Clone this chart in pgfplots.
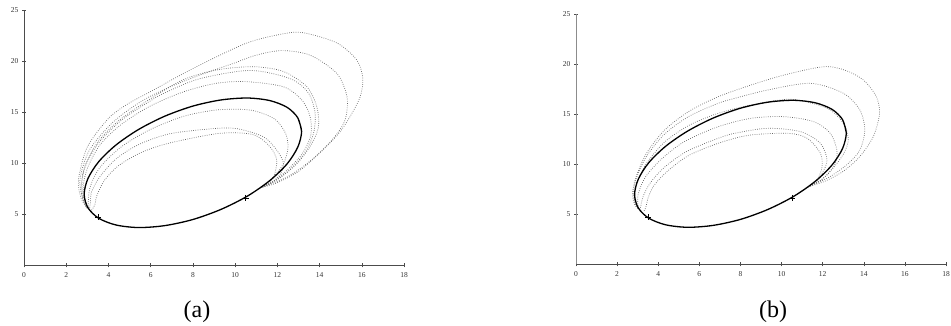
\documentclass[border=0pt]{standalone}
\usepackage{pgfplots}
\pgfplotsset{compat=1.18}
\usepackage{fontspec}
\setmainfont{Liberation Serif}
\begin{document}
\begin{tikzpicture}
\path[use as bounding box] (0pt,0pt) rectangle (951pt,326pt);
\pgfplotsset{
  myax/.style={scale only axis, xmin=0, xmax=18, ymin=0, ymax=25,
    axis x line=bottom, axis y line=left,
    axis line style={-, black!70, line width=0.6pt},
    xtick={0,2,...,18}, ytick={5,10,...,25},
    tick align=center, major tick length=4pt,
    tick style={black!70, line width=0.5pt},
    ticklabel style={font=\fontsize{7.5}{8}\selectfont, text=black!80},
    xticklabel style={yshift=-1.5pt},
    /pgf/number format/assume math mode=true, clip=false},
  boldc/.style={black, line width=1.3pt, smooth},
  dotc/.style={black!60, line width=0.7pt, dash pattern=on 0.7pt off 1.5pt, smooth},
  crs/.style={only marks, mark=+, mark size=3pt, black, mark options={line width=0.6pt}},
}
% ---------------- panel (a)
\begin{axis}[myax, width=380pt, height=255pt, at={(24pt,60.7pt)}, anchor=south west]
\addplot[dotc] coordinates {(11.2,7.6) (12.0,8.1) (13.0,9.2) (14.0,11.0) (14.9,12.9) (15.45,14.6) (15.92,16.5) (16.05,18.3) (15.77,20.1) (14.82,21.8) (13.24,22.8) (12.29,22.7) (10.7,21.9) (9.13,20.45) (7.55,18.8) (5.97,17.0) (4.9,15.8) (4.0,14.4) (3.0,11.6) (2.58,8.4) (2.7,6.6) (3.0,5.6)};
\addplot[dotc] coordinates {(11.2,7.6) (12.5,8.7) (13.6,10.3) (14.6,12.3) (15.2,14.2) (15.3,16.5) (14.82,18.8) (13.55,20.6) (12.2,21.05) (11.0,20.6) (9.92,19.8) (8.34,18.66) (6.76,17.35) (5.5,16.0) (4.2,14.0) (3.1,11.3) (2.65,8.4) (2.8,6.4) (3.0,5.6)};
\addplot[dotc] coordinates {(11.2,7.6) (12.0,8.4) (12.9,9.9) (13.6,11.8) (13.95,13.6) (13.87,15.55) (13.4,17.5) (12.29,19.0) (10.87,19.47) (9.13,19.15) (7.55,18.2) (5.97,16.3) (4.5,14.2) (3.5,12.1) (2.9,9.8) (2.7,7.6) (2.85,6.1) (3.0,5.6)};
\addplot[dotc] coordinates {(11.2,7.6) (11.9,8.3) (12.6,9.4) (13.3,11.0) (13.71,12.9) (13.79,14.9) (13.47,16.9) (12.61,18.3) (10.71,19.1) (8.34,18.3) (6.76,17.0) (5.97,16.1) (4.6,14.2) (3.5,11.9) (2.85,9.4) (2.75,7.4) (3.0,5.6)};
\addplot[dotc] coordinates {(11.2,7.6) (11.85,8.3) (12.5,9.4) (13.2,11.0) (13.59,12.8) (13.55,14.6) (13.16,16.2) (12.29,17.5) (10.55,18.0) (9.13,17.85) (7.55,17.0) (5.97,15.6) (4.6,13.8) (3.6,11.8) (3.0,9.5) (2.8,7.5) (3.0,5.6)};
\addplot[dotc] coordinates {(11.2,7.6) (11.8,8.6) (12.3,10.0) (12.5,11.5) (12.4,12.9) (11.9,14.3) (11.0,15.1) (10.2,15.3) (9.0,15.2) (7.55,14.6) (5.97,13.3) (4.6,11.6) (3.6,9.6) (3.15,7.8) (3.05,6.4) (3.05,5.6)};
\addplot[dotc] coordinates {(11.2,7.6) (11.66,8.0) (12.13,8.9) (12.29,10.0) (11.97,11.3) (11.34,12.6) (10.08,13.4) (8.97,13.4) (6.92,12.9) (5.5,11.9) (4.4,10.5) (3.6,8.7) (3.2,7.2) (3.15,6.2) (3.1,5.5)};
\addplot[dotc] coordinates {(11.2,7.6) (11.6,8.1) (11.85,8.8) (11.97,10.3) (11.66,11.6) (10.87,12.8) (9.29,12.94) (6.92,12.0) (5.6,11.1) (4.5,9.8) (3.8,8.3) (3.45,6.8) (3.35,5.9) (3.2,5.4)};
\addplot[boldc] coordinates {(13.15,13.13) (12.97,14.46) (12.46,15.49) (11.64,16.15) (10.58,16.40) (9.33,16.21) (8.00,15.61) (6.67,14.62) (5.43,13.32) (4.36,11.80) (3.54,10.16) (3.03,8.51) (2.85,6.97) (3.03,5.64) (3.54,4.61) (4.36,3.95) (5.43,3.70) (6.67,3.89) (8.00,4.49) (9.33,5.48) (10.58,6.78) (11.64,8.30) (12.46,9.94) (12.97,11.59) (13.15,13.13) (12.97,14.46)};
\addplot[crs] coordinates {(3.5,4.7) (10.5,6.6)};
\end{axis}
% ---------------- panel (b)
\begin{axis}[myax, width=370pt, height=250pt, at={(576pt,61.7pt)}, anchor=south west,
  y axis line style={black!45, line width=1pt}]
\addplot[dotc] coordinates {(11.3,7.75) (12.1,8.3) (13.0,9.3) (13.8,10.76) (14.46,12.76) (14.77,15.1) (14.6,16.8) (13.98,18.43) (13.1,19.4) (12.05,19.76) (10.13,18.93) (8.52,17.93) (6.92,16.76) (5.5,15.3) (4.3,13.4) (3.4,11.0) (2.9,8.6) (2.75,7.0) (2.85,6.0) (3.0,5.6)};
\addplot[dotc] coordinates {(11.3,7.75) (12.3,8.7) (13.2,10.0) (13.81,11.43) (14.05,13.43) (13.81,15.43) (13.01,17.1) (11.41,18.1) (9.33,17.43) (7.73,16.6) (6.92,16.1) (5.5,14.8) (4.3,13.0) (3.4,10.7) (2.9,8.4) (2.8,6.9) (2.9,5.9) (3.0,5.6)};
\addplot[dotc] coordinates {(11.3,7.75) (11.9,8.4) (12.5,9.6) (13.0,11.0) (13.25,12.43) (13.01,14.1) (12.21,15.6) (10.45,16.5) (8.52,15.93) (6.92,15.1) (5.5,13.9) (4.3,12.2) (3.4,10.0) (2.9,7.8) (2.85,6.5) (3.0,5.6)};
\addplot[dotc] coordinates {(11.3,7.75) (11.75,8.2) (12.2,8.9) (12.61,10.1) (12.69,11.43) (12.37,13.1) (11.57,14.26) (10.13,14.76) (8.52,14.6) (6.92,13.76) (5.3,12.3) (4.2,10.6) (3.4,8.8) (3.05,7.2) (3.0,6.2) (3.05,5.6)};
\addplot[dotc] coordinates {(11.3,7.75) (11.7,8.2) (12.0,9.2) (12.21,10.43) (11.89,12.1) (10.93,13.26) (9.33,13.6) (7.73,13.1) (6.92,12.6) (5.4,11.3) (4.3,9.7) (3.6,8.1) (3.25,6.7) (3.15,5.8) (3.1,5.5)};
\addplot[dotc] coordinates {(11.3,7.75) (11.6,8.1) (11.8,8.7) (11.97,9.76) (11.89,11.1) (11.25,12.6) (10.3,13.1) (8.4,12.9) (6.92,12.1) (5.5,10.9) (4.5,9.4) (3.8,7.9) (3.5,6.6) (3.4,5.7) (3.3,5.3)};
\addplot[boldc] coordinates {(13.15,13.13) (12.97,14.46) (12.46,15.49) (11.64,16.15) (10.58,16.40) (9.33,16.21) (8.00,15.61) (6.67,14.62) (5.43,13.32) (4.36,11.80) (3.54,10.16) (3.03,8.51) (2.85,6.97) (3.03,5.64) (3.54,4.61) (4.36,3.95) (5.43,3.70) (6.67,3.89) (8.00,4.49) (9.33,5.48) (10.58,6.78) (11.64,8.30) (12.46,9.94) (12.97,11.59) (13.15,13.13) (12.97,14.46)};
\addplot[crs] coordinates {(3.5,4.7) (10.5,6.6)};
\end{axis}
\node at (197pt,14pt) {\fontsize{24}{26}\selectfont (a)};
\node at (773pt,14pt) {\fontsize{24}{26}\selectfont (b)};
\end{tikzpicture}
\end{document}
